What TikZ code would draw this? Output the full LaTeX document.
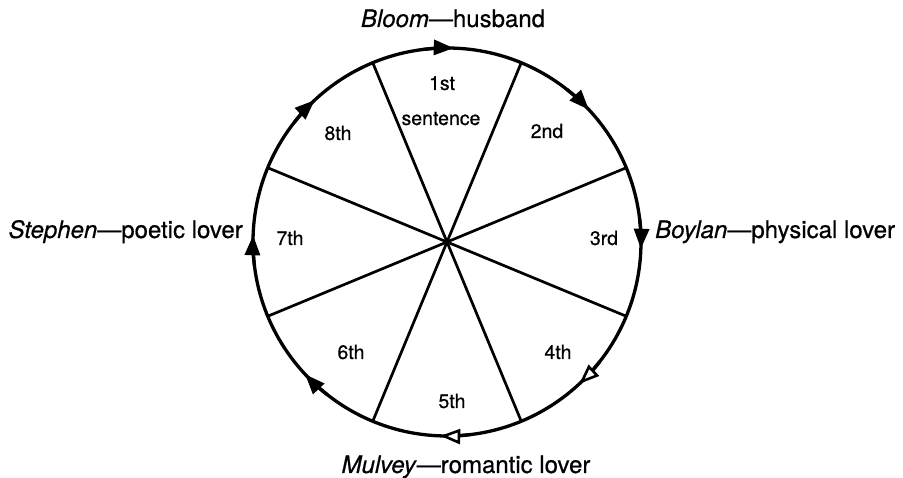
\documentclass[tikz,border=0pt]{standalone}
\usepackage{fontspec}
\setmainfont{TeX Gyre Heros}[FakeBold=0.6]
\usetikzlibrary{arrows.meta}
\tikzset{
  rim/.style={line width=3.3pt},
  spoke/.style={line width=2.7pt},
  tip/.style={-{Triangle[length=20pt,width=15pt]}},
  opentip/.style={-{Triangle[open,length=20pt,width=15pt,line width=2.6pt,fill=white]}},
  seclabel/.style={anchor=base, font=\fontsize{19.5}{21}\selectfont, inner sep=0pt},
  namelabel/.style={anchor=base, font=\fontsize{24}{26}\selectfont, inner sep=0pt}
}
\begin{document}
\begin{tikzpicture}[x=1pt,y=1pt]
    \useasboundingbox (0,0) rectangle (903,478);
    % Centre of the wheel
    \coordinate (o) at (447,236);

    % Outer rim
    \draw[rim] (o) circle[radius=194];

    % Rim points between the sectors
    \foreach \i/\a in {1/22.5,2/67.5,3/112.5,4/157.5,5/202.5,6/247.5,7/292.5,8/337.5} {
        \path (o) ++(\a:194) coordinate (r\i);
    }

    % Four diameters give the eight sectors
    \draw[spoke] (r1) -- (r5);
    \draw[spoke] (r2) -- (r6);
    \draw[spoke] (r3) -- (r7);
    \draw[spoke] (r4) -- (r8);

    % Clockwise arrows on the rim, one per sector
    \foreach \a in {90,45,0,-135,180,135} {
        \draw[rim, tip] (o) ++(\a+7:194) arc[start angle=\a+7, end angle=\a-2, radius=194];
    }
    \foreach \a in {-45,-90} {
        \draw[rim, opentip] (o) ++(\a+7:194) arc[start angle=\a+7, end angle=\a-2, radius=194];
    }

    % Sector labels
    \node[seclabel] (s1) at (442,388) {1st};
    \node[seclabel] (s1b) at (441,353) {sentence};
    \node[seclabel] (s2) at (547,340) {2nd};
    \node[seclabel] (s3) at (604,233) {3rd};
    \node[seclabel] (s4) at (558,119) {4th};
    \node[seclabel] (s5) at (452,70) {5th};
    \node[seclabel] (s6) at (351,119) {6th};
    \node[seclabel] (s7) at (290,233) {7th};
    \node[seclabel] (s8) at (338,338) {8th};

    % Names round the wheel
    \node[namelabel] (bloom) at (453,451) {\textit{Bloom}---husband};
    \node[namelabel, anchor=base east] (stephen) at (243,240) {\textit{Stephen}---poetic lover};
    \node[namelabel, anchor=base west] (boylan) at (655,240) {\textit{Boylan}---physical lover};
    \node[namelabel] (mulvey) at (466,5) {\textit{Mulvey}---romantic lover};
\end{tikzpicture}
\end{document}
